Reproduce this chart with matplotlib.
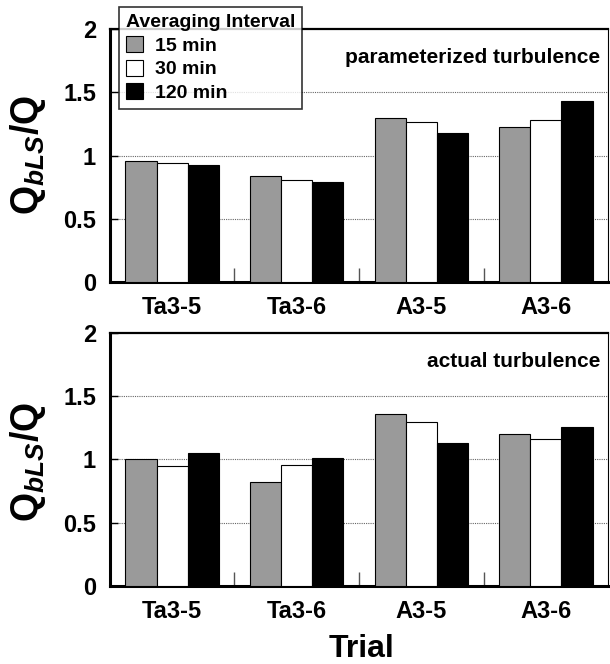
import numpy as np
import matplotlib
matplotlib.use('Agg')
import matplotlib.pyplot as plt
from matplotlib.patches import Patch

plt.rcParams['font.family'] = ['Liberation Sans', 'DejaVu Sans']
plt.rcParams['font.weight'] = 'bold'
plt.rcParams['mathtext.fontset'] = 'custom'
plt.rcParams['mathtext.rm'] = 'Liberation Sans:bold'
plt.rcParams['mathtext.it'] = 'Liberation Sans:bold:italic'

# data
trials = ['Ta3-5', 'Ta3-6', 'A3-5', 'A3-6']
intervals = ['15 min', '30 min', '120 min']
param_15 = [0.96, 0.84, 1.30, 1.23]
param_30 = [0.94, 0.81, 1.27, 1.28]
param_120 = [0.93, 0.79, 1.18, 1.43]
actual_15 = [1.00, 0.82, 1.36, 1.20]
actual_30 = [0.95, 0.96, 1.30, 1.16]
actual_120 = [1.05, 1.01, 1.13, 1.26]
yticks = [0, 0.5, 1, 1.5, 2]
yticklabels = ['0', '0.5', '1', '1.5', '2']

colors = ['#9a9a9a', 'white', 'black']
width = 0.25

fig = plt.figure(figsize=(6.1, 6.64), dpi=100)
ax_top = fig.add_axes([0.180, 0.575, 0.817, 0.381])
ax_bot = fig.add_axes([0.180, 0.1175, 0.817, 0.381])


def draw_panel(ax, series, note):
    x = np.arange(len(trials))
    for i, vals in enumerate(series):
        ax.bar(x + (i - 1) * width, vals, width, color=colors[i],
               edgecolor='black', linewidth=0.8, zorder=3)
    ax.set_xlim(-0.5, 3.5)
    ax.set_ylim(0, 2)
    ax.set_yticks(yticks)
    ax.set_yticklabels(yticklabels, fontsize=17, fontweight='bold')
    ax.set_xticks(x)
    ax.set_xticklabels(trials, fontsize=17, fontweight='bold')
    ax.set_xticks([0.5, 1.5, 2.5], minor=True)
    ax.tick_params(axis='x', which='major', length=0, pad=10)
    ax.tick_params(axis='x', which='minor', direction='in', length=10,
                   width=1, color='#555555')
    ax.tick_params(axis='y', direction='in', length=6, width=1, pad=10)
    for yv in [0.5, 1, 1.5]:
        ax.axhline(yv, color='#666666', linestyle=(0, (1, 1)), linewidth=0.8, zorder=1)
    ax.spines['left'].set_linewidth(2.2)
    ax.spines['bottom'].set_linewidth(2.2)
    ax.spines['top'].set_linewidth(1.6)
    ax.spines['right'].set_linewidth(0.8)
    ax.text(0.984, 0.889, note, transform=ax.transAxes, ha='right', va='center',
            fontsize=15, fontweight='bold')


draw_panel(ax_top, [param_15, param_30, param_120], 'parameterized turbulence')
draw_panel(ax_bot, [actual_15, actual_30, actual_120], 'actual turbulence')

ylab = r'$\mathrm{Q}_{bLS}\mathrm{/Q}$'
fig.text(0.046, 0.767, ylab, rotation=90, ha='center', va='center', fontsize=27)
fig.text(0.046, 0.304, ylab, rotation=90, ha='center', va='center', fontsize=27)
fig.text(0.593, 0.022, 'Trial', ha='center', va='center', fontsize=23, fontweight='bold')

handles = [Patch(facecolor=c, edgecolor='black', linewidth=0.8) for c in colors]
leg = fig.legend(handles, intervals, title='Averaging Interval',
                 loc='upper left', bbox_to_anchor=(0.195, 0.989), borderaxespad=0,
                 fontsize=14, title_fontsize=14, frameon=True, fancybox=False,
                 handlelength=0.9, handleheight=0.9, handletextpad=0.6,
                 labelspacing=0.25, borderpad=0.35, alignment='left')
leg.get_title().set_fontweight('bold')
for t in leg.get_texts():
    t.set_fontweight('bold')
leg.get_frame().set_edgecolor('black')
leg.get_frame().set_linewidth(1.2)

plt.savefig('out.png', dpi=100)
plt.close()
